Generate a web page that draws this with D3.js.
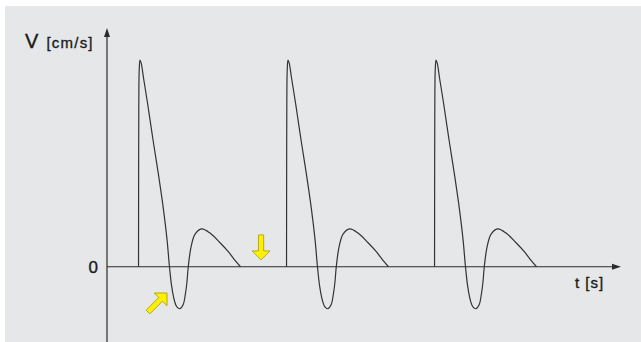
<!DOCTYPE html>
<html>
<head>
<meta charset="utf-8">
<script src="https://cdn.jsdelivr.net/npm/d3@7/dist/d3.min.js"></script>
<style>
  html, body { margin: 0; padding: 0; background: #ffffff; }
  svg { display: block; }
  text { font-family: "Liberation Sans", Arial, Helvetica, sans-serif; fill: #1a1a1a; stroke: #1a1a1a; stroke-width: 0.35px; }
</style>
</head>
<body>
<div id="chart"></div>
<script>
// ---- data ----
// onset times of the three pulses (s)
const cycleStarts = [0.213, 1.213, 2.213];
// one pulse: time since onset (s) and velocity (relative units, peak = 100)
const pulseT = [0, 0.0007, 0.002, 0.0047, 0.0101, 0.0182, 0.0338, 0.0608, 0.098, 0.135, 0.169, 0.193, 0.209,
                0.225, 0.243, 0.258, 0.280, 0.302, 0.316, 0.327, 0.336, 0.355, 0.382, 0.426, 0.483, 0.551, 0.605, 0.645, 0.689];
const pulseV = [0, 42, 80.7, 95.2, 100, 98.5, 91.3, 79.2, 61.3, 44.4, 27.4, 12.9, 0,
                -10.0, -16.5, -19.3, -20.3, -18.3, -13.5, -7.5, 0, 9.6, 15.8, 18.3, 16.3, 11.6, 7.4, 3.7, 0];
// axis ranges
const tDomain = [0, 3.466];
const vDomain = [-36.4, 115];
const yTickValues = [0];
const yTickLabels = ["0"];
const yAxisTitle = "V";
const yAxisUnit = "[cm/s]";
const xAxisTitle = "t [s]";
// yellow annotation arrows: [t, v] of tail and tip
const arrowTail = [[1.041, 15.4], [0.277, -21.9]];
const arrowTip  = [[1.041, 3.3], [0.4054, -12.7]];

// ---- drawing ----
const W = 641, H = 342;
const svg = d3.select("#chart").append("svg").attr("width", W).attr("height", H);

svg.append("rect").attr("x", 5).attr("y", 6).attr("width", W - 5).attr("height", H - 6)
   .attr("fill", "#e6e7e9");

const x = d3.scaleLinear().domain(tDomain).range([107, 620]);
const y = d3.scaleLinear().domain(vDomain).range([342, 29]);

const axisColor = "#2b2b2b";
// y axis line with arrow
svg.append("line").attr("x1", x(0)).attr("x2", x(0)).attr("y1", y(vDomain[0]) + 2).attr("y2", y(vDomain[1]) + 6)
   .attr("stroke", axisColor).attr("stroke-width", 1.2);
svg.append("path")
   .attr("d", `M${x(0)},${y(vDomain[1]) - 1} L${x(0) - 3},${y(vDomain[1]) + 8} L${x(0) + 3},${y(vDomain[1]) + 8} Z`)
   .attr("fill", axisColor);
// x axis line with arrow
svg.append("line").attr("x1", x(0)).attr("x2", x(tDomain[1]) - 6).attr("y1", y(0)).attr("y2", y(0))
   .attr("stroke", axisColor).attr("stroke-width", 1.2);
svg.append("path")
   .attr("d", `M${x(tDomain[1]) + 1},${y(0)} L${x(tDomain[1]) - 8},${y(0) - 3} L${x(tDomain[1]) - 8},${y(0) + 3} Z`)
   .attr("fill", axisColor);

// y tick label via d3 axis
const yAxis = d3.axisLeft(y).tickValues(yTickValues).tickFormat((d, i) => yTickLabels[i]).tickSize(0).tickPadding(9);
const gy = svg.append("g").attr("transform", `translate(${x(0)},0)`).call(yAxis);
gy.select(".domain").remove();
gy.selectAll("text").style("font-family", "'Liberation Sans', Arial, sans-serif")
  .style("font-size", "17px").attr("fill", "#1a1a1a").attr("stroke", "#1a1a1a").attr("stroke-width", 0.35)
  .attr("dy", "0.36em");

// titles
svg.append("text").attr("x", 25).attr("y", 47.7).style("font-size", "20px").text(yAxisTitle);
svg.append("text").attr("x", 46.5).attr("y", 47.7).style("font-size", "15px").style("letter-spacing", "1.2px").text(yAxisUnit);
svg.append("text").attr("x", 575).attr("y", 288).style("font-size", "15px").style("letter-spacing", "1px").text(xAxisTitle);

// pulses
const line = d3.line().x(d => x(d[0])).y(d => y(d[1])).curve(d3.curveCatmullRom.alpha(0.5));
cycleStarts.forEach(s => {
  const pts = pulseT.map((t, i) => [s + t, pulseV[i]]);
  svg.append("path").attr("d", line(pts)).attr("fill", "none")
     .attr("stroke", "#333").attr("stroke-width", 1.2).attr("stroke-linejoin", "round");
});

// yellow arrows
arrowTail.forEach((tl, i) => {
  const tp = arrowTip[i];
  const x0 = x(tl[0]), y0 = y(tl[1]), x1 = x(tp[0]), y1 = y(tp[1]);
  const L = Math.hypot(x1 - x0, y1 - y0);
  const ang = Math.atan2(y1 - y0, x1 - x0) * 180 / Math.PI;
  const sw = 2.6, hw = 9, hl = 9;
  const d = `M0,${-sw} L${L - hl},${-sw} L${L - hl},${-hw} L${L},0 L${L - hl},${hw} L${L - hl},${sw} L0,${sw} Z`;
  svg.append("path").attr("d", d)
     .attr("transform", `translate(${x0},${y0}) rotate(${ang})`)
     .attr("fill", "#fff000").attr("stroke", "#a39a10").attr("stroke-width", 0.8).attr("stroke-linejoin", "miter");
});
</script>
</body>
</html>
